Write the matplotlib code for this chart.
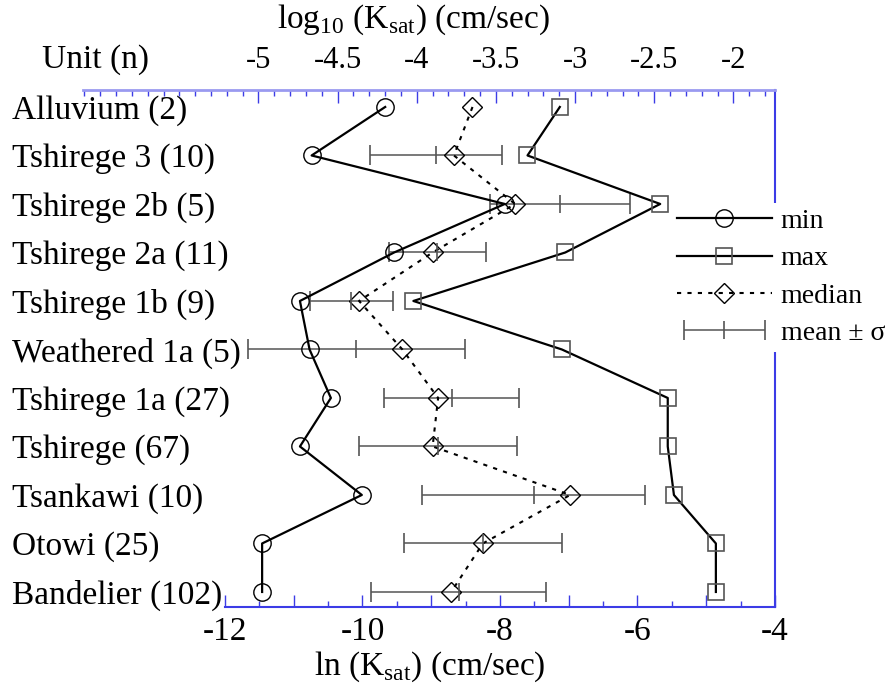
import numpy as np
import matplotlib.pyplot as plt
from matplotlib.container import ErrorbarContainer
from matplotlib.legend_handler import HandlerErrorbar
from matplotlib.ticker import MultipleLocator, FixedLocator, FuncFormatter

plt.rcParams["font.family"] = ["Liberation Serif", "DejaVu Serif"]
plt.rcParams["mathtext.fontset"] = "custom"
plt.rcParams["mathtext.rm"] = "Liberation Serif"
plt.rcParams["axes.unicode_minus"] = False

# ln(Ksat) values per unit, top to bottom
units = [
    "Alluvium (2)", "Tshirege 3 (10)", "Tshirege 2b (5)", "Tshirege 2a (11)",
    "Tshirege 1b (9)", "Weathered 1a (5)", "Tshirege 1a (27)", "Tshirege (67)",
    "Tsankawi (10)", "Otowi (25)", "Bandelier (102)",
]
ksat_min = [-9.67, -10.74, -7.93, -9.54, -10.91, -10.77, -10.46, -10.91, -10.01, -11.46, -11.46]
ksat_max = [-7.13, -7.60, -5.67, -7.05, -9.26, -7.10, -5.56, -5.56, -5.47, -4.86, -4.86]
ksat_median = [-8.40, -8.67, -7.78, -8.98, -10.05, -9.42, -8.90, -8.98, -6.98, -8.25, -8.71]
ksat_mean = [np.nan, -8.93, -7.13, -8.91, -10.16, -10.09, -8.70, -8.90, -7.51, -8.25, -8.60]
ksat_std = [np.nan, 0.96, 1.02, 0.71, 0.60, 1.58, 0.98, 1.15, 1.62, 1.15, 1.27]

W, H = 895, 693
blue = "#3c3ce6"
light_blue = "#9a9af0"
fs = 24

fig = plt.figure(figsize=(W / 100, H / 100), dpi=100)
ax = fig.add_axes([225 / W, 1 - 607 / H, 550 / W, 517 / H])
rows = np.arange(len(units))

ax.errorbar(ksat_mean, rows, xerr=ksat_std, fmt="|", color="#555555", ms=13, mew=1.2,
            ecolor="#555555", elinewidth=1.1, capsize=7, capthick=1.2, label="mean ± σ")
ax.plot(ksat_min, rows, color="k", lw=1.6, marker="o", ms=12.5, mfc="none", mec="k",
        mew=1.0, label="min")
ax.plot(ksat_max, rows, color="k", lw=1.6, marker="s", ms=12, mfc="none", mec="#555555",
        mew=1.2, label="max")
ax.plot(ksat_median, rows, color="k", lw=1.5, ls=(0, (2, 3)), marker="D", ms=10.5,
        mfc="none", mec="k", mew=1.0, label="median")

ax.set_xlim(-12, -4)
ax.set_ylim(10.31, -0.35)
ax.set_yticks(rows, units, fontsize=fs)
ax.tick_params(axis="y", length=0, pad=213 * 0.72)
for lab in ax.get_yticklabels():
    lab.set_horizontalalignment("left")

ax.xaxis.set_major_locator(MultipleLocator(1))
ax.xaxis.set_minor_locator(MultipleLocator(0.5))
ax.xaxis.set_major_formatter(FuncFormatter(lambda v, p: f"{v:g}" if round(v) % 2 == 0 else ""))
ax.tick_params(axis="x", which="major", direction="in", length=8.5, width=1, color=blue,
               labelsize=fs, pad=7)
ax.tick_params(axis="x", which="minor", direction="in", length=4.5, width=1, color=blue)
ax.spines["left"].set_visible(False)
ax.spines["top"].set_visible(False)
for s in ("bottom", "right"):
    ax.spines[s].set_color(blue)
    ax.spines[s].set_linewidth(1.5)

# top axis in log10 units, reaching further left than the data axes
left_px = 83
lo = (-12 - (225 - left_px) / 68.75) / np.log(10)
hi = -4 / np.log(10)
axt = fig.add_axes([left_px / W, 1 - 607 / H, (775 - left_px) / W, 517 / H])
axt.patch.set_visible(False)
axt.set_xlim(lo, hi)
axt.set_yticks([])
for s in ("left", "right", "bottom"):
    axt.spines[s].set_visible(False)
axt.spines["top"].set_color(light_blue)
axt.spines["top"].set_linewidth(2)
axt.xaxis.tick_top()
axt.xaxis.set_major_locator(FixedLocator(np.arange(-5, -1.99, 0.5)))
axt.xaxis.set_minor_locator(MultipleLocator(0.1))
axt.xaxis.set_major_formatter(FuncFormatter(lambda v, p: f"{v:g}"))
axt.tick_params(axis="x", which="major", direction="in", length=9, width=1, color=blue,
                labelsize=22, pad=11)
axt.tick_params(axis="x", which="minor", direction="in", length=4.5, width=1, color=blue)

fig.text(413 / W, 1 - 20 / H, r"log$_\mathrm{10}$ (K$_\mathrm{sat}$) (cm/sec)",
         ha="center", va="center", fontsize=fs)
fig.text(430 / W, 1 - 667 / H, r"ln (K$_\mathrm{sat}$) (cm/sec)",
         ha="center", va="center", fontsize=fs)
fig.text(42 / W, 1 - 60 / H, "Unit (n)", ha="left", va="center", fontsize=fs)

leg = ax.legend(loc="upper left", bbox_to_anchor=(671 / W, 1 - 203 / H),
                bbox_transform=fig.transFigure, frameon=True, fancybox=False,
                edgecolor="none", facecolor="white", framealpha=1, fontsize=20,
                handlelength=3.45, handletextpad=0.3, labelspacing=0.43,
                borderpad=0.2, borderaxespad=0,
                handler_map={ErrorbarContainer: HandlerErrorbar(xerr_size=1.45)})
leg.set_zorder(10)

fig.savefig("out.png", dpi=100)
